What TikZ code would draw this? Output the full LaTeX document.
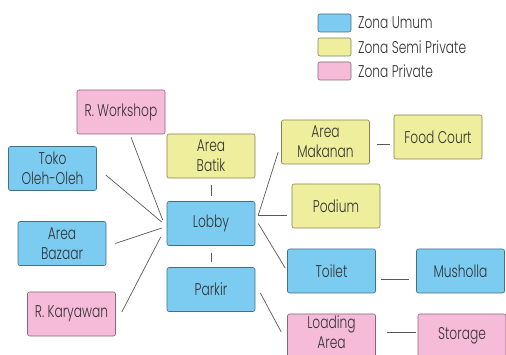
\documentclass[tikz,border=0pt]{standalone}
\usepackage{fontspec}
\setmainfont{Poppins}[UprightFont=* Light, FakeStretch=0.72]

\definecolor{umum}{HTML}{7CCBF0}
\definecolor{semi}{HTML}{EEEE9C}
\definecolor{privat}{HTML}{F6BBD9}

\begin{document}
\begin{tikzpicture}[x=1pt, y=-1pt,
    zona/.style={draw=#1!55!black, fill=#1, rounded corners=2pt, line width=0.6pt,
        minimum width=88pt, minimum height=44pt, inner sep=1pt, align=center,
        text=black!80, font=\fontsize{17}{20}\selectfont},
    garis/.style={draw=black!65, line width=0.7pt}]
    \useasboundingbox (0,0) rectangle (506,355);

    % legend
    \node[zona=umum, minimum width=33pt, minimum height=18pt] (kumum) at (334.5,23) {};
    \node[zona=semi, minimum width=33pt, minimum height=18pt] (ksemi) at (334.5,47) {};
    \node[zona=privat, minimum width=33pt, minimum height=18pt] (kprivat) at (334.5,71) {};
    \node[anchor=west, inner sep=0pt, text=black!80, font=\fontsize{17}{20}\selectfont] at (358,23) {Zona Umum};
    \node[anchor=west, inner sep=0pt, text=black!80, font=\fontsize{17}{20}\selectfont] at (358,47) {Zona Semi Private};
    \node[anchor=west, inner sep=0pt, text=black!80, font=\fontsize{17}{20}\selectfont] at (358,71) {Zona Private};

    % ruang
    \node[zona=privat] (workshop) at (121,112) {R. Workshop};
    \node[zona=semi] (batik) at (211,156) {Area\\Batik};
    \node[zona=umum] (toko) at (52.5,168.5) {Toko\\Oleh-Oleh};
    \node[zona=umum] (lobby) at (211,223.5) {Lobby};
    \node[zona=umum] (bazaar) at (62,243.5) {Area\\Bazaar};
    \node[zona=privat] (karyawan) at (71.5,314) {R. Karyawan};
    \node[zona=umum] (parkir) at (211,289.5) {Parkir};
    \node[zona=semi] (makanan) at (325.5,142) {Area\\Makanan};
    \node[zona=semi] (foodcourt) at (438,137) {Food Court};
    \node[zona=semi] (podium) at (336,206) {Podium};
    \node[zona=umum] (toilet) at (331.5,271) {Toilet};
    \node[zona=umum] (musholla) at (460.5,271) {Musholla};
    \node[zona=privat, text depth=7pt] (loading) at (331.5,336) {Loading\\Area};
    \node[zona=privat] (storage) at (462,336) {Storage};

    % hubungan ke lobby
    \draw[garis] ([xshift=10pt,yshift=-3pt]workshop.south) -- ([xshift=-4pt,yshift=3.5pt]lobby.west);
    \draw[garis] ([xshift=9pt,yshift=-6.5pt]toko.east) -- ([xshift=-5pt,yshift=1.5pt]lobby.west);
    \draw[garis] ([xshift=9pt]bazaar.east) -- ([xshift=-5pt,yshift=-4.5pt]lobby.west);
    \draw[garis] ([xshift=6pt,yshift=2pt]karyawan.east) -- ([xshift=-6pt,yshift=-13.5pt]lobby.west);
    \draw[garis, shorten <=7pt, shorten >=5pt] (batik.south) -- (lobby.north);
    \draw[garis, shorten <=7pt, shorten >=5pt] (lobby.south) -- (parkir.north);

    \coordinate (cabang) at ([xshift=3pt,yshift=8.5pt]lobby.east);
    \draw[garis] (cabang) -- ([xshift=-3pt,yshift=-10pt]makanan.west);
    \draw[garis, shorten >=5pt] (cabang) -- (cabang -| podium.west);
    \draw[garis] ([xshift=3pt]lobby.east) -- ([xshift=-2pt,yshift=3pt]toilet.west);
    \draw[garis] ([xshift=5pt,yshift=-3.5pt]parkir.east) -- ([xshift=-6pt,yshift=4pt]loading.west);

    % hubungan samping
    \draw[garis, shorten <=7pt, shorten >=4pt] ([yshift=-2pt]makanan.east) -- ([yshift=-2pt]makanan.east -| foodcourt.west);
    \draw[garis, shorten <=5pt, shorten >=7pt] ([yshift=-8pt]toilet.east) -- ([yshift=-8pt]musholla.west);
    \draw[garis, shorten <=11pt, shorten >=2pt] ([yshift=4pt]loading.east) -- ([yshift=4pt]storage.west);
\end{tikzpicture}
\end{document}
